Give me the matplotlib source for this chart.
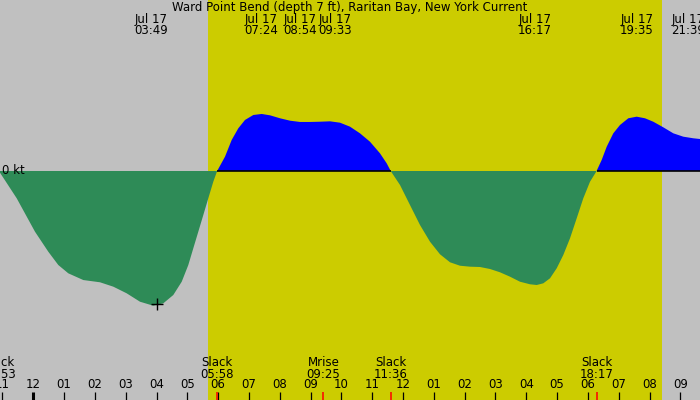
import numpy as np
import matplotlib
matplotlib.use("Agg")
import matplotlib.pyplot as plt
from matplotlib.transforms import blended_transform_factory

title = "Ward Point Bend (depth 7 ft), Raritan Bay, New York Current"

# hours since Jul 17 00:00 and current speed (kt)
hours = [-1.117, -0.539, 0.055, 0.487, 0.811, 1.136, 1.623, 2.165, 2.597, 3.031,
         3.463, 3.895, 4.219, 4.544, 4.817, 5.031, 5.193, 5.355, 5.518, 5.680,
         5.842, 5.967, 6.222, 6.439, 6.654, 6.871, 7.141, 7.413, 7.683, 8.007,
         8.332, 8.656, 8.981, 9.305, 9.630, 9.954, 10.279, 10.603, 10.928, 11.252,
         11.470, 11.600, 11.902, 12.226, 12.551, 12.876, 13.200, 13.525, 13.849, 14.174,
         14.498, 14.823, 15.147, 15.472, 15.797, 16.121, 16.339, 16.553, 16.771, 16.988,
         17.202, 17.420, 17.637, 17.851, 18.069, 18.283, 18.448, 18.611, 18.825, 19.042,
         19.312, 19.584, 19.854, 20.123, 20.448, 20.773, 21.097, 21.422, 21.639]
knots = [0.0, -0.341, -0.759, -1.009, -1.175, -1.279, -1.363, -1.391, -1.446, -1.529,
         -1.634, -1.684, -1.654, -1.550, -1.384, -1.175, -0.966, -0.759, -0.550, -0.341,
         -0.134, 0.0, 0.179, 0.388, 0.534, 0.638, 0.700, 0.713, 0.696, 0.659,
         0.629, 0.613, 0.613, 0.616, 0.621, 0.604, 0.554, 0.471, 0.366, 0.221,
         0.096, 0.0, -0.175, -0.425, -0.675, -0.884, -1.041, -1.141, -1.184, -1.196,
         -1.200, -1.225, -1.266, -1.321, -1.384, -1.416, -1.425, -1.404, -1.341, -1.216,
         -1.050, -0.841, -0.591, -0.341, -0.134, 0.0, 0.138, 0.304, 0.471, 0.575,
         0.659, 0.679, 0.659, 0.616, 0.546, 0.471, 0.429, 0.409, 0.400]

# top event labels (max/min current)
top_times = [3 + 49/60, 7 + 24/60, 8 + 54/60, 9 + 33/60, 16 + 17/60, 19 + 35/60, 21 + 39/60]
top_texts = ["03:49", "07:24", "08:54", "09:33", "16:17", "19:35", "21:39"]
top_date = "Jul 17"

# bottom event labels
bot_times = [-1 - 7/60, 5 + 58/60, 9 + 25/60, 11 + 36/60, 18 + 17/60]
bot_names = ["Slack", "Slack", "Mrise", "Slack", "Slack"]
bot_texts = ["22:53", "05:58", "09:25", "11:36", "18:17"]

# hour ticks
tick_hours = list(range(-1, 22))
tick_labels = ["%02d" % (((h % 24) + 11) % 12 + 1) for h in tick_hours]

sunrise = 5 + 41/60
sunset = 20 + 24/60
marker_time, marker_value = 4.0, -1.66

xmin, xmax = -1.081, 21.639
ymin, ymax = -2.8625, 2.1375

BG = "#C0C0C0"
DAY = "#CCCC00"
FLOOD = "#0000FF"
EBB = "#2E8B57"

fig = plt.figure(figsize=(7, 4), dpi=100)
fig.patch.set_facecolor(BG)
ax = fig.add_axes([0, 0, 1, 1])
ax.set_facecolor(BG)
ax.set_xlim(xmin, xmax)
ax.set_ylim(ymin, ymax)
ax.axis("off")

ax.axvspan(sunrise, sunset, color=DAY, lw=0, zorder=0)

h = np.array(hours)
k = np.array(knots)
ax.fill_between(h, 0, k, where=k >= 0, interpolate=True, color=FLOOD, lw=0, zorder=2)
ax.fill_between(h, 0, k, where=k <= 0, interpolate=True, color=EBB, lw=0, zorder=2)
zero_line = np.where(k >= 0, 0.0, np.nan)
ax.plot(h, zero_line, color="black", lw=1.2, zorder=3, solid_capstyle="butt")

ax.plot([marker_time], [marker_value], marker="+", color="black", ms=9, mew=1.0, zorder=4)

fs = 8.5
fam = "DejaVu Sans"
bt = blended_transform_factory(ax.transData, ax.transAxes)

ax.text(0.5, 1 - 8/400, title, transform=ax.transAxes, ha="center", va="center",
        fontsize=fs, family=fam, zorder=5)

# spread labels that would overlap
min_gap = 1.13
label_x = [min(t, xmax - 0.39) for t in top_times]
for i in range(len(label_x) - 1):
    gap = label_x[i + 1] - label_x[i]
    if gap < min_gap:
        push = (min_gap - gap) / 2
        label_x[i] -= push
        label_x[i + 1] += push

for x, s in zip(label_x, top_texts):
    ax.text(x, 1 - 19/400, top_date, transform=bt, ha="center", va="center",
            fontsize=fs, family=fam, zorder=5)
    ax.text(x, 1 - 31/400, s, transform=bt, ha="center", va="center",
            fontsize=fs, family=fam, zorder=5)

tick_len = 8/400
for th, lab in zip(tick_hours, tick_labels):
    ax.text(th, 1 - 385/400, lab, transform=bt, ha="center", va="center",
            fontsize=fs, family=fam, zorder=5)
    ax.plot([th, th], [0, tick_len], transform=bt, color="black",
            lw=2.2 if th % 24 == 0 else 0.9, zorder=5, solid_capstyle="butt")

for t, n, s in zip(bot_times, bot_names, bot_texts):
    ax.text(t, 1 - 362/400, n, transform=bt, ha="center", va="center",
            fontsize=fs, family=fam, zorder=5)
    ax.text(t, 1 - 374/400, s, transform=bt, ha="center", va="center",
            fontsize=fs, family=fam, zorder=5)
    ax.plot([t, t], [0, tick_len], transform=bt, color="red", lw=1.1, zorder=6,
            solid_capstyle="butt")

ax.text(xmin + 0.07, 0, "0 kt", ha="left", va="center", fontsize=fs, family=fam, zorder=5)

fig.savefig("out.png", dpi=100, facecolor=BG)
